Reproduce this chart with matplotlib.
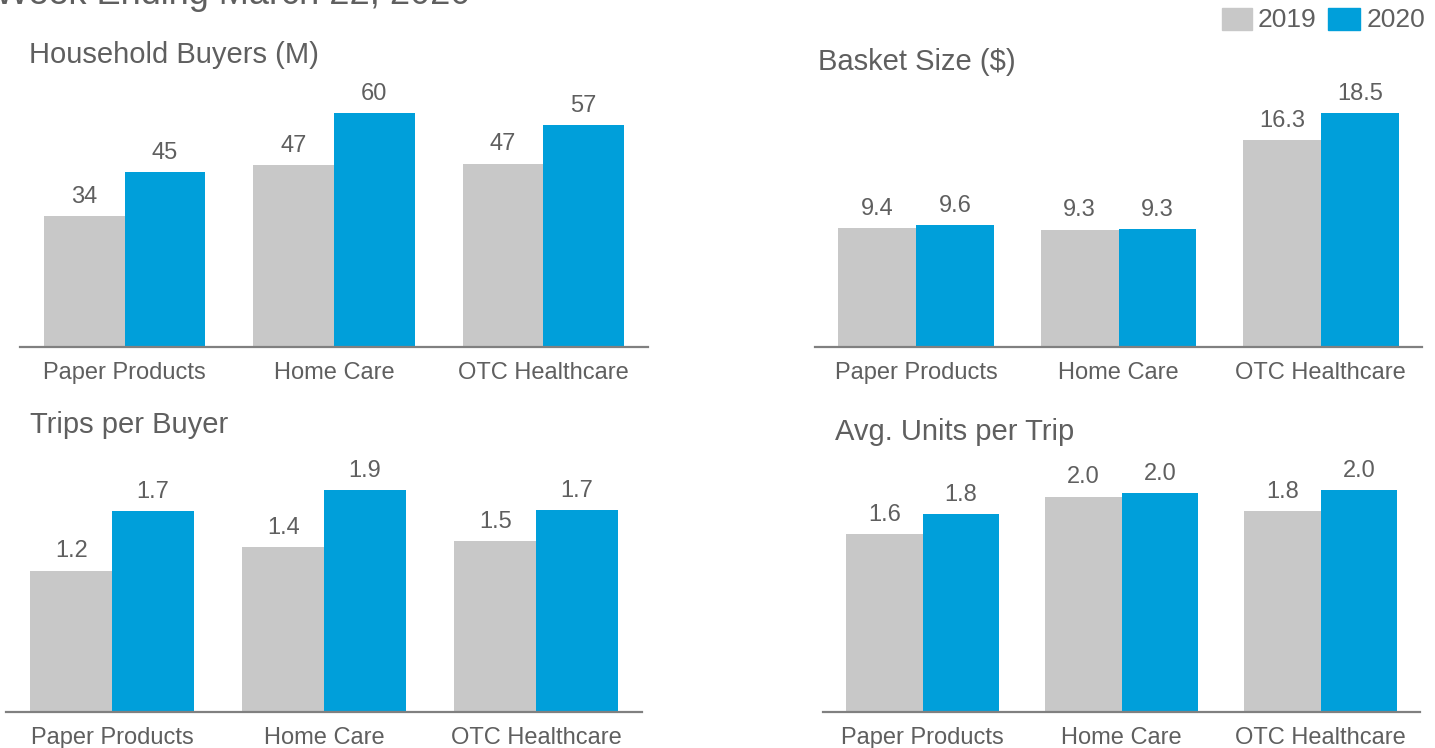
import matplotlib.pyplot as plt
import numpy as np

plt.rcParams['font.family'] = ['Liberation Sans', 'DejaVu Sans']

categories = ['Paper Products', 'Home Care', 'OTC Healthcare']
years = ['2019', '2020']

buyers_2019 = [33.6, 46.7, 47.0]
buyers_2020 = [44.8, 60.0, 56.8]
basket_2019 = [9.37, 9.27, 16.33]
basket_2020 = [9.62, 9.33, 18.5]
trips_2019 = [1.21, 1.41, 1.46]
trips_2020 = [1.72, 1.90, 1.73]
units_2019 = [1.62, 1.96, 1.83]
units_2020 = [1.80, 1.99, 2.02]

GRAY = '#c8c8c8'
BLUE = '#009fda'
TEXT = '#5f5f5f'
AXIS = '#808080'

W, H = 1435, 748
fig = plt.figure(figsize=(W / 100, H / 100), dpi=100)


def px_axes(x0, x1, base, height):
    # pixel box (top-left origin) -> figure fraction
    return fig.add_axes([x0 / W, (H - base) / H, (x1 - x0) / W, height / H])


def panel(ax, v19, v20, fmt, top_scale):
    x = np.arange(len(categories))
    bw = 0.385
    ax.bar(x - bw / 2, v19, bw, color=GRAY)
    ax.bar(x + bw / 2, v20, bw, color=BLUE)
    for xs, vals in ((x - bw / 2, v19), (x + bw / 2, v20)):
        for xi, v in zip(xs, vals):
            ax.annotate(fmt.format(v), (xi, v), xytext=(0, 6), textcoords='offset points',
                        ha='center', va='bottom', fontsize=17, color=TEXT,
                        annotation_clip=False)
    ax.set_xlim(-0.5, 2.5)
    ax.set_ylim(0, max(v20 + v19) * top_scale)
    ax.set_xticks(x)
    ax.set_xticklabels(categories, fontsize=17, color=TEXT)
    ax.tick_params(axis='x', length=0, pad=11)
    ax.set_yticks([])
    for s in ('left', 'right', 'top'):
        ax.spines[s].set_visible(False)
    ax.spines['bottom'].set_color(AXIS)
    ax.spines['bottom'].set_linewidth(1.6)


ax1 = px_axes(20, 648, 347, 250)
panel(ax1, buyers_2019, buyers_2020, '{:.0f}', 250 / 234)
ax2 = px_axes(815, 1422, 347, 250)
panel(ax2, basket_2019, basket_2020, '{:.1f}', 250 / 234)
ax3 = px_axes(6, 642, 712, 250)
panel(ax3, trips_2019, trips_2020, '{:.1f}', 250 / 222)
ax4 = px_axes(823, 1420, 712, 250)
panel(ax4, units_2019, units_2020, '{:.1f}', 250 / 222)

# panel titles
for tx, ty, label in ((29, 55, 'Household Buyers (M)'), (818, 62, 'Basket Size ($)'),
                      (30, 425, 'Trips per Buyer'), (835, 432, 'Avg. Units per Trip')):
    fig.text(tx / W, 1 - ty / H, label, fontsize=21, color=TEXT, ha='left', va='center')

# headline, partly above the top edge
fig.text(-5 / W, 1 - 4 / H, 'Week Ending March 22, 2020', fontsize=26, color=TEXT,
         ha='left', va='baseline')

# legend
for (x0, x1), (tx, label), col in (((1222, 1252), (1258, '2019'), GRAY),
                                   ((1328, 1360), (1367, '2020'), BLUE)):
    fig.patches.append(plt.Rectangle((x0 / W, 1 - 30 / H), (x1 - x0) / W, 22 / H,
                                     transform=fig.transFigure, color=col))
    fig.text(tx / W, 1 - 20 / H, label, fontsize=19, color=TEXT, ha='left', va='center')

fig.savefig('out.png', dpi=100)
